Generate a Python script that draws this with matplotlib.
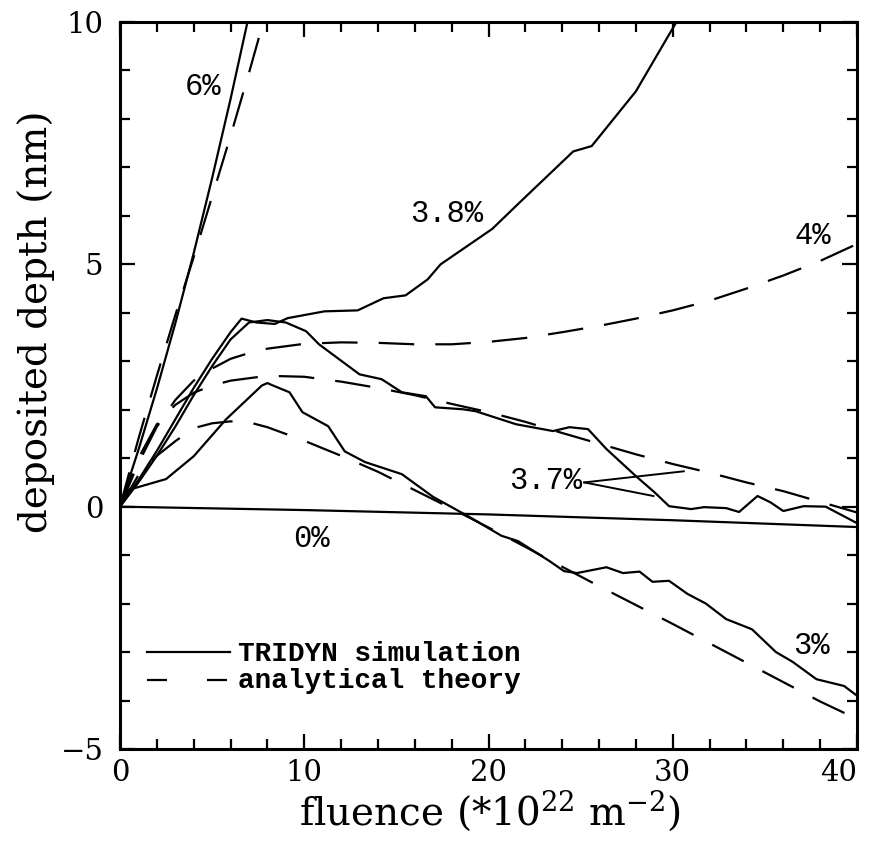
import matplotlib
matplotlib.use("Agg")
import matplotlib.pyplot as plt
from matplotlib.ticker import MultipleLocator

plt.rcParams["font.family"] = ["DejaVu Serif"]
plt.rcParams["mathtext.fontset"] = "dejavuserif"

# ---- TRIDYN simulation (solid) ----
sim6_x = [0, 1, 2, 3, 4, 5, 6, 7]
sim6_y = [0, 1.17, 2.43, 3.78, 5.23, 6.78, 8.41, 10.14]

sim38_x = [0, 1, 2, 3, 4, 5, 6, 6.6, 7.4, 8.4, 9.1, 11.1, 12.9, 14.3, 15.5,
           16.7, 17.4, 20.2, 21.7, 24.6, 25.6, 28.0, 30.2]
sim38_y = [0, 0.55, 1.15, 1.8, 2.45, 3.05, 3.6, 3.88, 3.8, 3.77, 3.89, 4.03,
           4.05, 4.3, 4.36, 4.69, 5.0, 5.73, 6.28, 7.33, 7.44, 8.57, 10.0]

sim37_x = [0, 1, 2, 3, 4, 5, 6, 7, 8, 9, 10.1, 10.8, 13.0, 14.2, 15.3, 16.6,
           17.1, 18.6, 19.3, 21.5, 23.5, 24.4, 25.4, 26.4, 28.0, 29.0, 29.8,
           31.0, 31.7, 32.9, 33.6, 34.6, 35.3, 36.0, 37.1, 38.3, 40.0]
sim37_y = [0, 0.5, 1.05, 1.65, 2.3, 2.9, 3.45, 3.8, 3.85, 3.8, 3.62, 3.35,
           2.73, 2.63, 2.36, 2.28, 2.05, 2.01, 1.97, 1.70, 1.56, 1.64, 1.60,
           1.19, 0.63, 0.30, 0.01, -0.05, -0.01, -0.03, -0.11, 0.22, 0.09,
           -0.09, 0.01, 0.0, -0.34]

sim3_x = [0, 0.5, 2.5, 4.0, 5.75, 7.7, 8.0, 8.3, 9.2, 9.9, 11.3, 12.2, 13.3,
          15.3, 17.0, 19.0, 20.7, 21.6, 23.3, 24.1, 24.8, 26.4, 27.3, 28.2,
          28.9, 29.8, 30.8, 31.8, 32.9, 34.3, 35.6, 36.5, 37.8, 39.3, 40.0]
sim3_y = [0, 0.35, 0.57, 1.04, 1.8, 2.5, 2.55, 2.5, 2.36, 1.95, 1.66, 1.14,
          0.92, 0.67, 0.2, -0.22, -0.6, -0.71, -1.12, -1.33, -1.37, -1.25,
          -1.37, -1.34, -1.55, -1.53, -1.8, -2.0, -2.32, -2.53, -3.0, -3.2,
          -3.56, -3.7, -3.9]

sim0_x = [0, 10, 20, 30, 40]
sim0_y = [0, -0.07, -0.16, -0.28, -0.42]

# ---- analytical theory (dashed) ----
th6_x = [0, 1, 2, 3, 4, 5, 6, 7, 8]
th6_y = [0, 1.4, 2.7, 3.95, 5.15, 6.4, 7.65, 8.95, 10.3]

th4_x = [0, 1, 2, 3, 4, 5, 6, 7, 8, 10, 12, 14, 16, 18, 20, 22, 24, 26, 28,
         30, 32, 34, 36, 38, 40]
th4_y = [0, 0.9, 1.65, 2.2, 2.6, 2.85, 3.05, 3.17, 3.26, 3.36, 3.39, 3.38,
         3.35, 3.35, 3.4, 3.48, 3.6, 3.73, 3.88, 4.05, 4.25, 4.5, 4.77, 5.07,
         5.42]

th37_x = [0, 1, 2, 3, 4, 5, 6, 8, 10, 12, 14, 16, 18, 20, 22, 24, 26, 28, 30,
          32, 34, 36, 38, 40]
th37_y = [0, 1.0, 1.7, 2.1, 2.35, 2.5, 2.6, 2.7, 2.68, 2.58, 2.45, 2.3, 2.12,
          1.95, 1.75, 1.52, 1.3, 1.08, 0.88, 0.7, 0.5, 0.32, 0.1, -0.12]

th3_x = [0, 1, 2, 3, 4, 5, 6, 7, 8, 9, 10, 12, 14, 16, 18, 20, 22, 24, 26,
         28, 30, 32, 34, 36, 38, 40]
th3_y = [0, 0.65, 1.05, 1.35, 1.62, 1.72, 1.76, 1.74, 1.64, 1.5, 1.36, 1.05,
         0.72, 0.34, -0.04, -0.43, -0.83, -1.24, -1.64, -2.03, -2.42, -2.82,
         -3.22, -3.62, -4.02, -4.38]

# curve labels: text, x, y
curve_labels = [("6%", 4.5, 8.65), ("3.8%", 17.7, 6.03), ("4%", 37.6, 5.58),
                ("3.7%", 23.1, 0.53), ("0%", 10.4, -0.67), ("3%", 37.5, -2.88)]

x_ticks = [0, 10, 20, 30, 40]
y_ticks = [-5, 0, 5, 10]
legend_labels = ["TRIDYN simulation", "analytical theory"]

fig = plt.figure(figsize=(8.71, 8.41), dpi=100)
ax = fig.add_axes([120 / 871, 1 - 749 / 841, 737 / 871, 727 / 841])

lw = 1.6
solid = dict(color="black", lw=lw, ls="-")
dash = dict(color="black", lw=lw, ls=(0, (16, 9.5)))

for xs, ys in [(sim6_x, sim6_y), (sim38_x, sim38_y), (sim37_x, sim37_y),
               (sim3_x, sim3_y), (sim0_x, sim0_y)]:
    ax.plot(xs, ys, **solid)
for xs, ys in [(th6_x, th6_y), (th4_x, th4_y), (th37_x, th37_y),
               (th3_x, th3_y)]:
    ax.plot(xs, ys, **dash)

mono = "Liberation Mono"
for txt, x, y in curve_labels:
    ax.text(x, y, txt, fontsize=22, family=mono, ha="center", va="center")

# pointers from the 3.7% label to both 3.7% curves
ax.plot([25.2, 30.6], [0.5, 0.73], color="black", lw=1.4)
ax.plot([25.2, 28.95], [0.5, 0.22], color="black", lw=1.4)

ax.set_xlim(0, 40)
ax.set_ylim(-5, 10)
ax.set_xticks(x_ticks)
ax.set_xticklabels([str(v) for v in x_ticks])
ax.set_yticks(y_ticks)
ax.set_yticklabels([str(v).replace("-", "\u2212") for v in y_ticks])
ax.xaxis.set_minor_locator(MultipleLocator(2))
ax.yaxis.set_minor_locator(MultipleLocator(1))
ax.tick_params(which="both", direction="in", top=True, right=True,
               width=1.6, labelsize=21)
ax.tick_params(which="major", length=11)
ax.tick_params(which="minor", length=7)
ax.tick_params(axis="x", which="major", pad=7)
ax.tick_params(axis="y", which="major", pad=12)
for s in ax.spines.values():
    s.set_linewidth(2.2)

# keep the last x tick label inside the figure
ax.get_xticklabels()[-1].set_horizontalalignment("right")

# key in the lower-left corner
tr = ax.transAxes
ax.plot([0.0366, 0.149], [0.1334, 0.1334], transform=tr, **solid)
ax.plot([0.0366, 0.149], [0.0949, 0.0949], transform=tr, color="black",
        lw=lw, ls=(0, (9, 18)))
ax.text(0.160, 0.1210, legend_labels[0], transform=tr, fontsize=20,
        family=mono, fontweight="bold", va="baseline", ha="left")
ax.text(0.160, 0.0839, legend_labels[1], transform=tr, fontsize=20,
        family=mono, fontweight="bold", va="baseline", ha="left")

fig.text(490 / 871, 1 - 811 / 841, r"fluence (*10$^{22}$ m$^{-2}$)",
         fontsize=28, ha="center", va="center")
fig.text(36 / 871, 1 - 322 / 841, "deposited depth (nm)", fontsize=28,
         ha="center", va="center", rotation=90)

fig.savefig("out.png", dpi=100)
